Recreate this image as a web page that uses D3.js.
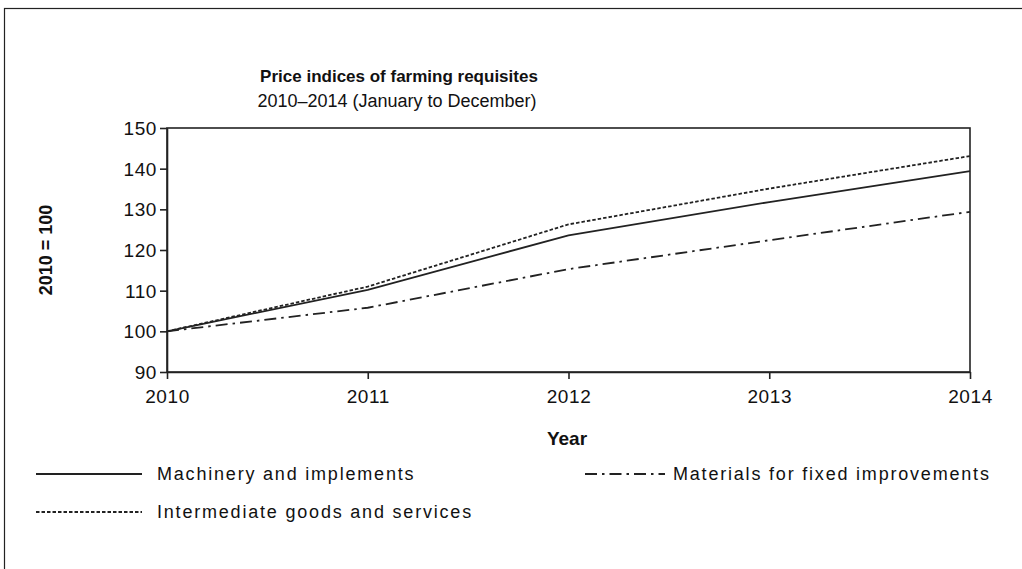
<!DOCTYPE html>
<html>
<head>
<meta charset="utf-8">
<script src="https://cdn.jsdelivr.net/npm/d3@7"></script>
<style>
  body { margin: 0; background: #fff; }
  svg { display: block; font-family: "Liberation Sans", Arial, sans-serif; }
</style>
</head>
<body>
<div id="chart"></div>
<script>
const years = [2010, 2011, 2012, 2013, 2014];
const machinery = [100, 110.2, 123.6, 131.8, 139.4];
const intermediate = [100, 111, 126.3, 135.1, 143.1];
const materials = [100, 105.8, 115.3, 122.4, 129.4];
const yTicks = [90, 100, 110, 120, 130, 140, 150];

const series = [
    { name: "Machinery and implements", values: machinery, dash: null },
    { name: "Intermediate goods and services", values: intermediate, dash: "3.5,2" },
    { name: "Materials for fixed improvements", values: materials, dash: "12,5,2.5,5" }
];

const W = 1022, H = 569;
const svg = d3.select("#chart").append("svg")
    .attr("width", W)
    .attr("height", H);

// outer frame
svg.append("rect")
    .attr("x", 4.5).attr("y", 8.5)
    .attr("width", 1040).attr("height", 600)
    .attr("fill", "none")
    .attr("stroke", "#222")
    .attr("stroke-width", 1.2);

const x = d3.scaleLinear().domain([2010, 2014]).range([167, 970]);
const y = d3.scaleLinear().domain([90, 150]).range([372, 128]);

// plot box
svg.append("rect")
    .attr("x", x(2010)).attr("y", y(150))
    .attr("width", x(2014) - x(2010)).attr("height", y(90) - y(150))
    .attr("fill", "none").attr("stroke", "#222").attr("stroke-width", 1.6);

const xAxis = svg.append("g")
    .attr("transform", `translate(0,${y(90)})`)
    .call(d3.axisBottom(x).tickValues(years).tickFormat(d3.format("d")).tickSize(7).tickSizeOuter(0));
const yAxis = svg.append("g")
    .attr("transform", `translate(${x(2010)},0)`)
    .call(d3.axisLeft(y).tickValues(yTicks).tickSize(7).tickSizeOuter(0));

[xAxis, yAxis].forEach(g => {
    g.select(".domain").attr("stroke", "#222").attr("stroke-width", 1.6);
    g.selectAll(".tick line").attr("stroke", "#222").attr("stroke-width", 1.6);
    g.selectAll(".tick text")
        .attr("fill", "#111")
        .style("font-size", "19px")
        .style("letter-spacing", "0.6px")
        .style("font-family", "Liberation Sans, Arial, sans-serif");
});
xAxis.selectAll(".tick text").attr("y", 14).attr("dy", "0.9em");
yAxis.selectAll(".tick text").attr("x", -10).attr("dy", "0.35em");

const line = d3.line()
    .x((d, i) => x(years[i]))
    .y(d => y(d));

svg.selectAll(".series")
    .data(series)
    .enter().append("path")
    .attr("class", "series")
    .attr("d", d => line(d.values))
    .attr("fill", "none")
    .attr("stroke", "#222")
    .attr("stroke-width", 1.8)
    .attr("stroke-dasharray", d => d.dash);

// titles
svg.append("text")
    .attr("x", 399).attr("y", 82)
    .attr("text-anchor", "middle")
    .style("font-size", "17px").style("font-weight", "bold")
    .attr("fill", "#111")
    .text("Price indices of farming requisites");
svg.append("text")
    .attr("x", 397).attr("y", 107)
    .attr("text-anchor", "middle")
    .style("font-size", "18px")
    .attr("fill", "#111")
    .text("2010\u20132014 (January to December)");

svg.append("text")
    .attr("x", 567).attr("y", 445)
    .attr("text-anchor", "middle")
    .style("font-size", "19px").style("font-weight", "bold")
    .attr("fill", "#111")
    .text("Year");

svg.append("text")
    .attr("transform", `translate(52,${250}) rotate(-90)`)
    .attr("text-anchor", "middle")
    .style("font-size", "18px").style("font-weight", "bold")
    .attr("fill", "#111")
    .text("2010 = 100");

// legend
const legendPos = [
    { x1: 36, x2: 142, tx: 157, y: 474 },
    { x1: 36, x2: 142, tx: 157, y: 512 },
    { x1: 585, x2: 665, tx: 673, y: 474 }
];
const legend = svg.selectAll(".legend")
    .data(series)
    .enter().append("g")
    .attr("class", "legend");
legend.append("line")
    .attr("x1", (d, i) => legendPos[i].x1)
    .attr("x2", (d, i) => legendPos[i].x2)
    .attr("y1", (d, i) => legendPos[i].y)
    .attr("y2", (d, i) => legendPos[i].y)
    .attr("stroke", "#222")
    .attr("stroke-width", 1.8)
    .attr("stroke-dasharray", d => d.dash);
legend.append("text")
    .attr("x", (d, i) => legendPos[i].tx)
    .attr("y", (d, i) => legendPos[i].y)
    .attr("dy", "0.35em")
    .style("font-size", "18px")
    .style("letter-spacing", "1.8px")
    .attr("fill", "#111")
    .text(d => d.name);
</script>
</body>
</html>
